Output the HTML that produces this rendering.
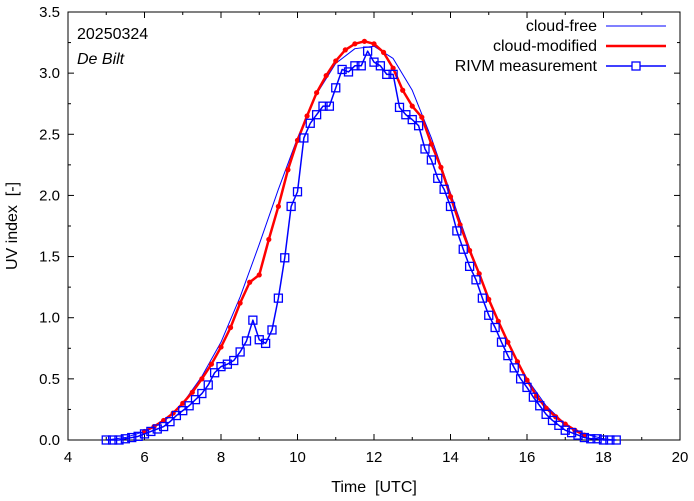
<!DOCTYPE html>
<html><head><meta charset="utf-8"><style>
body{margin:0;background:#fff}
svg{display:block;font-family:"Liberation Sans",sans-serif}
</style></head><body>
<svg id="c" width="694" height="501"></svg>
<script>
const measT=[];for(let i=0;i<=80;i++)measT.push(5+i/6);
const measV=[0,0,0,0.01,0.02,0.03,0.05,0.07,0.09,0.11,0.15,0.2,0.24,0.28,0.33,0.38,0.45,0.55,0.6,0.62,0.65,0.72,0.81,0.98,0.82,0.79,0.9,1.16,1.49,1.91,2.03,2.47,2.59,2.66,2.73,2.73,2.88,3.03,3.01,3.06,3.06,3.18,3.09,3.06,2.99,2.99,2.72,2.66,2.62,2.57,2.38,2.29,2.14,2.05,1.91,1.71,1.56,1.42,1.31,1.16,1.02,0.92,0.8,0.69,0.59,0.5,0.43,0.35,0.28,0.21,0.16,0.12,0.08,0.06,0.04,0.02,0.01,0.01,0,0,0];
const cmT=[];for(let i=0;i<=46;i++)cmT.push(6+i*0.25);
const cmV=[0.07,0.11,0.16,0.22,0.3,0.39,0.5,0.62,0.76,0.92,1.12,1.29,1.35,1.64,1.91,2.21,2.45,2.65,2.84,2.98,3.1,3.19,3.24,3.26,3.24,3.17,3.04,2.86,2.73,2.64,2.42,2.23,1.99,1.76,1.55,1.36,1.15,0.97,0.8,0.64,0.49,0.36,0.26,0.19,0.13,0.08,0.04];
const csT=[5,5.5,6,6.5,7,7.5,8,8.5,9,9.5,10,10.5,11,11.5,12,12.5,13,13.5,14,14.5,15,15.5,16,16.5,17,17.5,18,18.3];
const csV=[0,0.02,0.07,0.15,0.3,0.52,0.8,1.17,1.6,2.05,2.47,2.83,3.08,3.2,3.22,3.12,2.86,2.47,2.02,1.57,1.15,0.79,0.5,0.28,0.13,0.05,0.01,0];
const xTicks=[4,6,8,10,12,14,16,18,20];
const yTicks=[0,0.5,1,1.5,2,2.5,3,3.5];
const X0=68,X1=680,Y0=440,Y1=12;
const sx=t=>X0+(t-4)/16*(X1-X0), sy=v=>Y0-v/3.5*(Y0-Y1);
const svg=document.getElementById('c');const NS='http://www.w3.org/2000/svg';
function mk(tag,a,p){const e=document.createElementNS(NS,tag);for(const k in a)e.setAttribute(k,a[k]);(p||svg).appendChild(e);return e;}
let e;
e=mk('rect',{x:X0,y:Y1,width:X1-X0,height:Y0-Y1,fill:'none',stroke:'#000','stroke-width':1});


xTicks.forEach((t,i)=>{
 const x=sx(t);
 mk('line',{x1:x,x2:x,y1:Y0,y2:Y0-6,stroke:'#000'});mk('line',{x1:x,x2:x,y1:Y1,y2:Y1+6,stroke:'#000'});
 if(i<xTicks.length-1){const m=sx(t+1);mk('line',{x1:m,x2:m,y1:Y0,y2:Y0-3,stroke:'#000'});mk('line',{x1:m,x2:m,y1:Y1,y2:Y1+3,stroke:'#000'});}
 const tx=mk('text',{x:x,y:Y0+22,'text-anchor':'middle','font-size':15});tx.textContent=t;
 
 
});
yTicks.forEach((v,i)=>{
 const y=sy(v);
 mk('line',{x1:X0,x2:X0+6,y1:y,y2:y,stroke:'#000'});mk('line',{x1:X1,x2:X1-6,y1:y,y2:y,stroke:'#000'});
 if(i<yTicks.length-1){const m=sy(v+0.25);mk('line',{x1:X0,x2:X0+3,y1:m,y2:m,stroke:'#000'});mk('line',{x1:X1,x2:X1-3,y1:m,y2:m,stroke:'#000'});}
 const tx=mk('text',{x:X0-8,y:y+5,'text-anchor':'end','font-size':15});tx.textContent=v.toFixed(1);
 
 
});
e=mk('text',{x:374,y:492,'text-anchor':'middle','font-size':16});e.textContent='Time\u00a0\u00a0[UTC]';


e=mk('text',{x:17,y:226,'text-anchor':'middle','font-size':16,transform:'rotate(-90 17 226)'});e.textContent='UV index\u00a0\u00a0[-]';


e=mk('text',{x:77,y:39,'font-size':16});e.textContent='20250324';


e=mk('text',{x:77,y:64,'font-size':16,'font-style':'italic'});e.textContent='De Bilt';


const pts=(T,V)=>T.map((t,i)=>sx(t)+','+sy(V[i])).join(' ');
e=mk('polyline',{points:pts(csT,csV),fill:'none',stroke:'#0000ff','stroke-width':1,'stroke-linejoin':'round'});


e=mk('polyline',{points:pts(cmT,cmV),fill:'none',stroke:'#ff0000','stroke-width':2.5,'stroke-linejoin':'round'});


cmT.forEach((t,i)=>{const c=mk('circle',{cx:sx(t),cy:sy(cmV[i]),r:2.6,fill:'#ff0000'});
 
 });
e=mk('polyline',{points:pts(measT,measV),fill:'none',stroke:'#0000ff','stroke-width':1.5,'stroke-linejoin':'round'});


measT.forEach((t,i)=>{const r=mk('rect',{x:sx(t)-4,y:sy(measV[i])-4,width:8,height:8,fill:'none',stroke:'#0000ff','stroke-width':1.3});
 
 });
const leg=[['cloud-free',26],['cloud-modified',46],['RIVM measurement',66]];
leg.forEach((l,i)=>{
 const t=mk('text',{x:597,y:l[1]+5,'text-anchor':'end','font-size':16});t.textContent=l[0];
 
 
 const ln=mk('line',{x1:606,x2:666,y1:l[1],y2:l[1],stroke:i==1?'#ff0000':'#0000ff','stroke-width':i==0?1:(i==1?2.5:1.5)});
 
 
 if(i==2){const r=mk('rect',{x:632,y:l[1]-4,width:8,height:8,fill:'#fff',stroke:'#0000ff','stroke-width':1.3});
  
  }
});
</script>
</body></html>
